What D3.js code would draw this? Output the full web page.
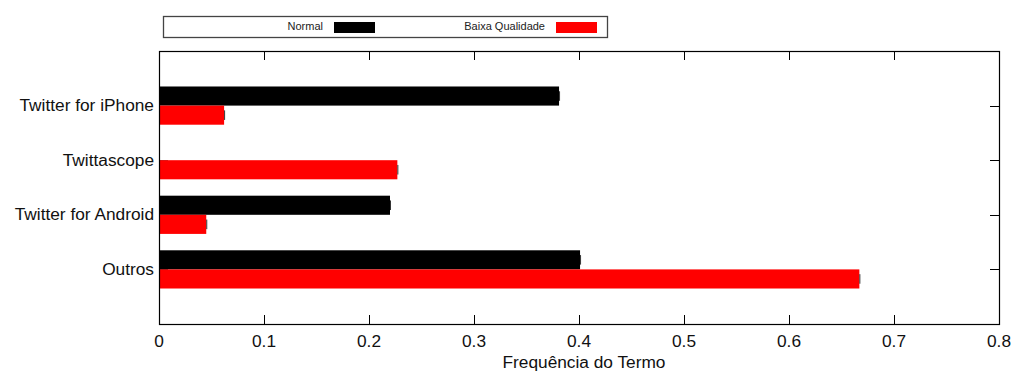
<!DOCTYPE html>
<html>
<head>
<meta charset="utf-8">
<script src="https://cdn.jsdelivr.net/npm/d3@7"></script>
<style>
  body { margin: 0; background: #fff; }
  svg { display: block; font-family: "Liberation Sans", Arial, sans-serif; }
</style>
</head>
<body>
<div id="chart"></div>
<script>
// data
const categories = ["Twitter for iPhone", "Twittascope", "Twitter for Android", "Outros"];
const catPos = [4, 3, 2, 1];
const normalValues = [0.381, 0, 0.22, 0.401];
const lowQualityValues = [0.062, 0.227, 0.045, 0.667];
const xTicks = [0, 0.1, 0.2, 0.3, 0.4, 0.5, 0.6, 0.7, 0.8];
const xTickLabels = ["0", "0.1", "0.2", "0.3", "0.4", "0.5", "0.6", "0.7", "0.8"];
const seriesNames = ["Normal", "Baixa Qualidade"];
const seriesColors = ["#000000", "#ff0000"];

const width = 1013, height = 372;
const plotL = 159, plotR = 999, plotT = 51, plotB = 324;
const barH = 0.35;
const tickLen = 9;

const svg = d3.select("#chart").append("svg")
    .attr("width", width)
    .attr("height", height);

const x = d3.scaleLinear().domain([0, 0.8]).range([plotL, plotR]);
const y = d3.scaleLinear().domain([0, 5]).range([plotB, plotT]);

// ticks (drawn first so the bars sit over them, like the original)
const tickG = svg.append("g").attr("stroke", "#000").attr("stroke-width", 1);
xTicks.forEach(t => {
    const px = Math.round(x(t)) + 0.5;
    tickG.append("line").attr("x1", px).attr("x2", px).attr("y1", plotB).attr("y2", plotB - tickLen);
    tickG.append("line").attr("x1", px).attr("x2", px).attr("y1", plotT).attr("y2", plotT + tickLen);
});
catPos.forEach(p => {
    const py = Math.round(y(p)) + 0.5;
    tickG.append("line").attr("x1", plotL).attr("x2", plotL + tickLen).attr("y1", py).attr("y2", py)
        .attr("stroke", "#666");
    tickG.append("line").attr("x1", plotR).attr("x2", plotR - tickLen).attr("y1", py).attr("y2", py);
});

// bars
const rows = categories.map((c, i) => ({ c, p: catPos[i], n: normalValues[i], b: lowQualityValues[i] }));
const series = [
    { key: "n", color: seriesColors[0], off: barH },
    { key: "b", color: seriesColors[1], off: 0 }
];
series.forEach(s => {
    svg.append("g").selectAll("rect")
        .data(rows)
        .enter()
        .append("rect")
        .attr("x", x(0))
        .attr("y", d => y(d.p + s.off))
        .attr("width", d => x(d[s.key]) - x(0))
        .attr("height", y(0) - y(barH))
        .attr("fill", s.color);
    // small error marks at the bar ends
    svg.append("g").selectAll("line")
        .data(rows.filter(d => d[s.key] > 0))
        .enter()
        .append("line")
        .attr("x1", d => x(d[s.key]) + 0.5)
        .attr("x2", d => x(d[s.key]) + 0.5)
        .attr("y1", d => y(d.p + s.off - barH * 0.25))
        .attr("y2", d => y(d.p + s.off - barH * 0.75))
        .attr("stroke", "#333")
        .attr("stroke-width", 1);
});

// frame
svg.append("rect")
    .attr("x", plotL + 0.5).attr("y", plotT + 0.5)
    .attr("width", plotR - plotL).attr("height", plotB - plotT)
    .attr("fill", "none").attr("stroke", "#000").attr("stroke-width", 1.2);

// x tick labels
svg.append("g").selectAll("text")
    .data(xTicks)
    .enter()
    .append("text")
    .attr("x", d => x(d))
    .attr("y", 346.5)
    .attr("text-anchor", "middle")
    .attr("font-size", "17.3px")
    .attr("fill", "#111")
    .text((d, i) => xTickLabels[i]);

// category labels
svg.append("g").selectAll("text")
    .data(rows)
    .enter()
    .append("text")
    .attr("x", 154)
    .attr("y", d => y(d.p) + 5.5)
    .attr("text-anchor", "end")
    .attr("font-size", "17.3px")
    .attr("fill", "#111")
    .text(d => d.c);

// axis title
svg.append("text")
    .attr("x", 584)
    .attr("y", 367.5)
    .attr("text-anchor", "middle")
    .attr("font-size", "17.3px")
    .attr("fill", "#111")
    .text("Frequência do Termo");

// legend
const leg = svg.append("g");
leg.append("rect")
    .attr("x", 163.5).attr("y", 16.5)
    .attr("width", 444).attr("height", 21)
    .attr("fill", "#fff").attr("stroke", "#444").attr("stroke-width", 1.3);
const legTextX = [323, 545];
const legSwatchX = [334, 556];
seriesNames.forEach((n, i) => {
    leg.append("text")
        .attr("x", legTextX[i]).attr("y", 30)
        .attr("text-anchor", "end")
        .attr("font-size", "11px")
        .attr("fill", "#222")
        .text(n);
    leg.append("rect")
        .attr("x", legSwatchX[i]).attr("y", 22)
        .attr("width", 41).attr("height", 11)
        .attr("fill", seriesColors[i]);
});
</script>
</body>
</html>
